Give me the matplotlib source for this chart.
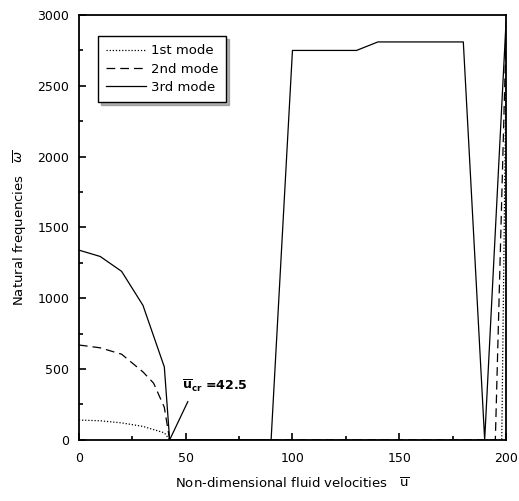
import numpy as np
import matplotlib
matplotlib.use("Agg")
import matplotlib.pyplot as plt

plt.rcParams['font.family'] = ['DejaVu Sans']
plt.rcParams['mathtext.fontset'] = 'dejavusans'

# mode 1 (dotted)
u1 = [0, 10, 20, 30, 40, 42.5, 198, 200]
w1 = [140, 135, 120, 95, 50, 0, 0, 2600]
# mode 2 (dashed)
u2 = [0, 10, 20, 30, 35, 40, 42.5, 195, 200]
w2 = [670, 650, 605, 480, 400, 230, 0, 0, 2850]
# mode 3 (solid)
u3 = [0, 10, 20, 30, 40, 42.5, 90, 100, 130, 140, 180, 190, 200]
w3 = [1340, 1295, 1190, 950, 515, 0, 0, 2750, 2750, 2810, 2810, 0, 2950]

u_cr = 42.5

fig = plt.figure(figsize=(5.19, 5.01), dpi=100)
ax = fig.add_axes([0.152, 0.122, 0.823, 0.848])

ax.plot(u1, w1, color='black', lw=0.9, linestyle=(0, (1, 1.5)), label='1st mode')
ax.plot(u2, w2, color='black', lw=0.9, linestyle=(0, (7, 4)), label='2nd mode')
ax.plot(u3, w3, color='black', lw=0.9, label='3rd mode')

# critical velocity marker
ax.plot([u_cr, 51], [0, 270], color='black', lw=0.9)
ax.text(48.5, 350, r'$\mathbf{\overline{u}_{cr}}$ =42.5', fontsize=9,
        fontweight='bold')

ax.set_xlim(0, 200)
ax.set_ylim(0, 3000)
ax.set_xticks([0, 50, 100, 150, 200])
ax.set_xticks([25, 75, 125, 175], minor=True)
ax.set_yticks([0, 500, 1000, 1500, 2000, 2500, 3000])
ax.set_yticks(np.arange(250, 3000, 500), minor=True)
ax.tick_params(which='both', direction='in', top=False, right=False,
               labelsize=9, width=1.2)
ax.tick_params(which='major', length=5)
ax.tick_params(which='minor', length=3)
ax.tick_params(axis='x', pad=9)
ax.tick_params(axis='y', pad=7)
for s in ax.spines.values():
    s.set_linewidth(1.3)

ax.set_xlabel(r'Non-dimensional fluid velocities   $\overline{\mathrm{u}}$',
              fontsize=9.5, labelpad=8)
ax.set_ylabel(r'Natural frequencies   $\overline{\omega}$', fontsize=9.5,
              labelpad=6)

leg = ax.legend(loc='upper left', bbox_to_anchor=(0.03, 0.965), fontsize=9.5,
                frameon=True, fancybox=False, shadow={'color': 'dimgray'},
                handlelength=3.0, borderpad=0.6, labelspacing=0.4,
                handletextpad=0.4)
leg.get_frame().set_edgecolor('black')
leg.get_frame().set_linewidth(1.0)

fig.savefig('out.png', dpi=100)
